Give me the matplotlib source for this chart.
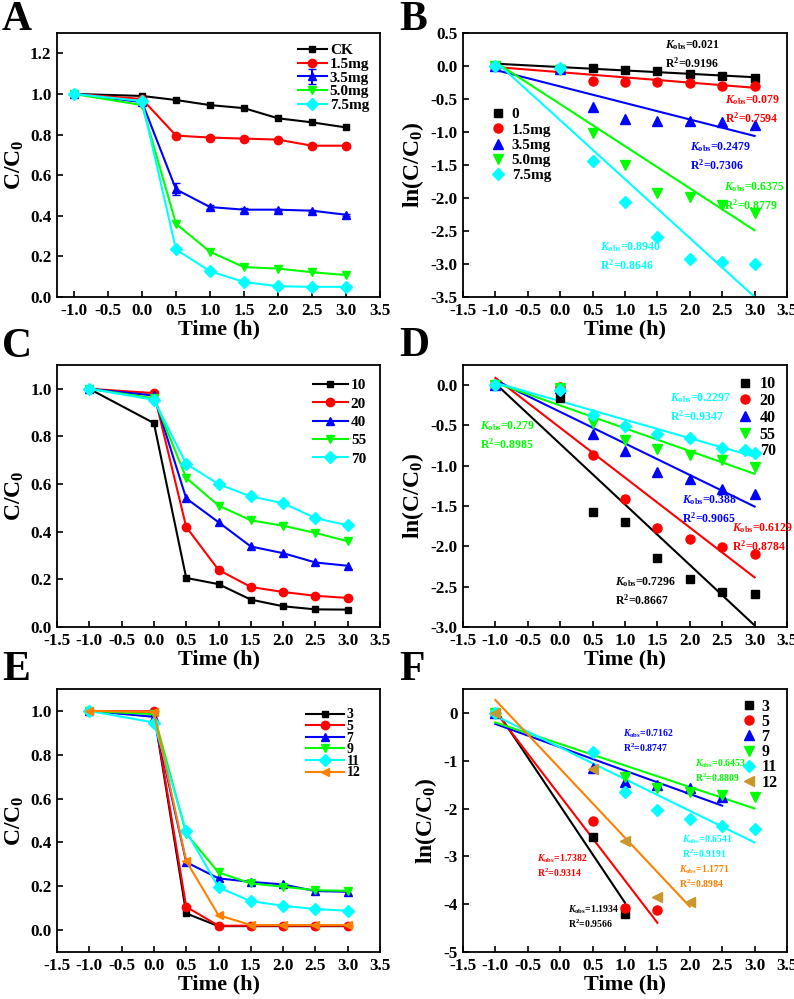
import matplotlib
matplotlib.use('Agg')
from matplotlib import pyplot as plt

plt.rcParams['font.family'] = 'Liberation Serif'
plt.rcParams['font.weight'] = 'bold'
plt.rcParams['axes.labelweight'] = 'bold'
plt.rcParams['mathtext.fontset'] = 'custom'
plt.rcParams['mathtext.rm'] = 'Liberation Serif:bold'
plt.rcParams['mathtext.it'] = 'Liberation Serif:italic:bold'
plt.rcParams['mathtext.bf'] = 'Liberation Serif:bold'
plt.rcParams['axes.unicode_minus'] = False
plt.rcParams['axes.linewidth'] = 1.3

time = [-1, 0, 0.5, 1, 1.5, 2, 2.5, 3]
colors = ['black', 'red', 'blue', '#00FF00', 'cyan', '#FF8000']
markers = ['s', 'o', '^', 'v', 'D', '<']

# panel A - dosage
a_labels = ['CK', '1.5mg', '3.5mg', '5.0mg', '7.5mg']
a_values = [
    [1.0, 0.99, 0.97, 0.945, 0.93, 0.88, 0.86, 0.835],
    [1.0, 0.975, 0.795, 0.785, 0.78, 0.775, 0.745, 0.745],
    [1.0, 0.96, 0.53, 0.443, 0.43, 0.43, 0.425, 0.405],
    [1.0, 0.945, 0.36, 0.223, 0.147, 0.14, 0.122, 0.108],
    [1.0, 0.965, 0.234, 0.127, 0.074, 0.053, 0.05, 0.05],
]
a_err = [0, 0.01, 0.03, 0.01, 0.01, 0.005, 0.005, 0.005]

# panel B - ln(C/C0) for dosage
b_labels = ['0', '1.5mg', '3.5mg', '5.0mg', '7.5mg']
b_values = [
    [0, -0.04, -0.035, -0.06, -0.075, -0.125, -0.15, -0.18],
    [0, -0.05, -0.23, -0.24, -0.245, -0.26, -0.3, -0.3],
    [0, -0.04, -0.62, -0.8, -0.84, -0.84, -0.85, -0.9],
    [0, -0.06, -1.02, -1.5, -1.92, -1.98, -2.1, -2.23],
    [0, -0.035, -1.44, -2.06, -2.59, -2.92, -2.97, -3.0],
]
b_fit_start = [0.035, -0.015, -0.06, 0.06, 0.07]
b_fit_end = [-0.17, -0.33, -1.06, -2.49, -3.5]
b_kobs = ['0.021', '0.079', '0.2479', '0.6375', '0.8940']
b_r2 = ['0.9196', '0.7594', '0.7306', '0.8779', '0.8646']
b_text_x = [1.62, 2.54, 2.0, 2.53, 0.61]
b_text_y = [0.32, -0.515, -1.23, -1.83, -2.74]

# panel C - concentration
c_labels = ['10', '20', '40', '55', '70']
c_values = [
    [1.0, 0.856, 0.206, 0.18, 0.115, 0.087, 0.074, 0.073],
    [1.0, 0.982, 0.42, 0.24, 0.168, 0.147, 0.131, 0.122],
    [1.0, 0.972, 0.54, 0.44, 0.338, 0.31, 0.271, 0.257],
    [1.0, 0.96, 0.626, 0.51, 0.448, 0.425, 0.395, 0.36],
    [1.0, 0.954, 0.685, 0.6, 0.548, 0.52, 0.457, 0.427],
]

# panel D - ln(C/C0) for concentration
d_labels = ['10', '20', '40', '55', '70']
d_values = [
    [0, -0.157, -1.57, -1.70, -2.15, -2.41, -2.57, -2.59],
    [0, -0.02, -0.867, -1.416, -1.77, -1.91, -2.01, -2.09],
    [0, -0.033, -0.607, -0.817, -1.08, -1.164, -1.29, -1.35],
    [0, -0.041, -0.475, -0.68, -0.797, -0.867, -0.93, -1.02],
    [0, -0.054, -0.376, -0.508, -0.6, -0.66, -0.784, -0.846],
]
d_fit_start = [0.02, 0.09, 0.06, 0.03, 0.03]
d_fit_end = [-2.98, -2.385, -1.506, -1.10, -0.887]
d_kobs = ['0.7296', '0.6129', '0.388', '0.279', '0.2297']
d_r2 = ['0.8667', '0.8784', '0.9065', '0.8985', '0.9347']
d_text_x = [0.845, 2.65, 1.88, -1.24, 1.69]
d_text_y = [-2.44, -1.77, -1.427, -0.51, -0.165]

# panel E - pH
e_labels = ['3', '5', '7', '9', '11', '12']
e_values = [
    [1.0, 0.992, 0.076, 0.018, 0.018, 0.018, 0.018, 0.018],
    [1.0, 0.998, 0.106, 0.02, 0.02, 0.02, 0.02, 0.02],
    [1.0, 0.973, 0.31, 0.236, 0.22, 0.208, 0.178, 0.175],
    [1.0, 0.985, 0.44, 0.263, 0.213, 0.198, 0.182, 0.179],
    [1.0, 0.947, 0.451, 0.195, 0.132, 0.111, 0.096, 0.088],
    [1.0, 0.995, 0.315, 0.068, 0.023, 0.023, 0.023, 0.023],
]

# panel F - ln(C/C0) for pH
f_labels = ['3', '5', '7', '9', '11', '12']
f_times = [
    [-1, 0.5, 1.0],
    [-1, 0.5, 1.0, 1.5],
    [-1, 0.5, 1.0, 1.5, 2.0, 2.5],
    [-1, 1.0, 1.5, 2.0, 2.5, 3.0],
    [-1, 0.5, 1.0, 1.5, 2.0, 2.5, 3.0],
    [-1, 0.5, 1.0, 1.5, 2.0],
]
f_values = [
    [0, -2.6, -4.21],
    [0, -2.27, -4.085, -4.13],
    [0, -1.16, -1.44, -1.5, -1.58, -1.75],
    [0, -1.35, -1.57, -1.66, -1.72, -1.75],
    [0, -0.81, -1.65, -2.03, -2.22, -2.37, -2.43],
    [0, -1.17, -2.67, -3.86, -3.95],
]
f_fit_start = [0.08, 0.03, -0.23, -0.2, -0.06, 0.27]
f_fit_end = [-3.97, -4.39, -1.94, -2.0, -2.71, -4.05]
f_fit_x_end = [1.0, 1.5, 2.5, 3.0, 3.0, 2.0]
f_kobs = ['1.1934', '1.7382', '0.7162', '0.6453', '0.6541', '1.1771']
f_r2 = ['0.9566', '0.9314', '0.8747', '0.8809', '0.9191', '0.8984']
f_text_x = [0.12, -0.36, 0.97, 2.08, 1.88, 1.83]
f_text_y = [-4.12, -3.05, -0.43, -1.06, -2.65, -3.28]
f_marker_colors = ['black', 'red', 'blue', '#00FF00', 'cyan', '#C8962D']

W, H = 794, 999


def box(l, t, r, b):
    return [l / W, 1 - b / H, (r - l) / W, (b - t) / H]


def style(ax, ylabel):
    ax.tick_params(direction='in', length=4, width=1.2, labelsize=12.3, pad=4)
    for lab in ax.get_xticklabels() + ax.get_yticklabels():
        lab.set_fontweight('bold')
    ax.set_xlabel('Time (h)', fontsize=16, fontweight='bold', labelpad=1)
    ax.set_ylabel(ylabel, fontsize=17, fontweight='bold', labelpad=3)


def kobs_text(ax, x, y, k, r2, color, size, gap):
    ax.text(x, y, r'$\mathit{K}_{\mathrm{obs}}$=' + k, color=color,
            fontsize=size, va='center')
    ax.annotate(r'R$^{\mathrm{2}}$=' + r2, (x, y), xytext=(0, -gap),
                textcoords='offset points', color=color, fontsize=size,
                va='center')


fig = plt.figure(figsize=(7.94, 9.99), dpi=100)

# A
ax = fig.add_axes(box(57, 33, 380, 297))
for i in range(5):
    err = a_err if i == 2 else None
    ax.errorbar(time, a_values[i], yerr=err, color=colors[i], marker=markers[i],
                ms=6 if i else 5, lw=1.5, capsize=3, label=a_labels[i])
ax.set_xlim(-1.25, 3.5)
ax.set_ylim(0, 1.3)
ax.set_xticks([-1, -0.5, 0, 0.5, 1, 1.5, 2, 2.5, 3, 3.5])
ax.set_yticks([0, 0.2, 0.4, 0.6, 0.8, 1.0, 1.2])
style(ax, 'C/C$_{\\mathrm{0}}$')
ax.legend(loc='upper right', frameon=False, fontsize=11, handlelength=1.9,
          handletextpad=0.2, labelspacing=0.0, borderaxespad=0.3)

# B
ax = fig.add_axes(box(463, 33, 787, 297))
for i in range(5):
    ax.plot([-1, 3], [b_fit_start[i], b_fit_end[i]], color=colors[i], lw=1.5)
for i in range(5):
    ax.plot(time, b_values[i], ls='none', color=colors[i], marker=markers[i],
            ms=6.5 if i else 5.5, label=b_labels[i])
    kobs_text(ax, b_text_x[i], b_text_y[i], b_kobs[i], b_r2[i], colors[i], 8.5, 13)
ax.set_xlim(-1.5, 3.5)
ax.set_ylim(-3.5, 0.5)
ax.set_xticks([-1.5, -1, -0.5, 0, 0.5, 1, 1.5, 2, 2.5, 3, 3.5])
ax.set_yticks([-3.5, -3.0, -2.5, -2.0, -1.5, -1.0, -0.5, 0.0, 0.5])
style(ax, 'ln(C/C$_{\\mathrm{0}}$)')
ax.legend(loc='upper left', bbox_to_anchor=(0.07, 0.74), frameon=False,
          fontsize=11, handlelength=0.8, handletextpad=0.5, labelspacing=0.1,
          borderaxespad=0)

# C
ax = fig.add_axes(box(57, 365, 380, 627))
for i in range(5):
    ax.plot(time, c_values[i], color=colors[i], marker=markers[i],
            ms=6 if i else 5, lw=1.5, label=c_labels[i])
ax.set_xlim(-1.5, 3.5)
ax.set_ylim(0, 1.1)
ax.set_xticks([-1.5, -1, -0.5, 0, 0.5, 1, 1.5, 2, 2.5, 3, 3.5])
ax.set_yticks([0, 0.2, 0.4, 0.6, 0.8, 1.0])
style(ax, 'C/C$_{\\mathrm{0}}$')
ax.legend(loc='upper right', frameon=False, fontsize=11, handlelength=2.3,
          handletextpad=0.2, labelspacing=0.3, borderaxespad=0.5)

# D
ax = fig.add_axes(box(463, 365, 787, 627))
for i in range(5):
    ax.plot([-1, 3], [d_fit_start[i], d_fit_end[i]], color=colors[i], lw=1.5)
for i in range(5):
    ax.plot(time, d_values[i], ls='none', color=colors[i], marker=markers[i],
            ms=6.5 if i else 5.5, label=d_labels[i])
    kobs_text(ax, d_text_x[i], d_text_y[i], d_kobs[i], d_r2[i], colors[i], 8.5, 13)
ax.set_xlim(-1.5, 3.5)
ax.set_ylim(-3.0, 0.25)
ax.set_xticks([-1.5, -1, -0.5, 0, 0.5, 1, 1.5, 2, 2.5, 3, 3.5])
ax.set_yticks([-3.0, -2.5, -2.0, -1.5, -1.0, -0.5, 0.0])
style(ax, 'ln(C/C$_{\\mathrm{0}}$)')
ax.legend(loc='upper right', frameon=False, fontsize=11.5, handlelength=0.8,
          handletextpad=0.5, labelspacing=0.05, borderaxespad=0.3)

# E
ax = fig.add_axes(box(57, 689, 380, 952))
for i in range(6):
    ax.plot(time, e_values[i], color=colors[i], marker=markers[i],
            ms=6 if i else 5, lw=1.5, label=e_labels[i])
ax.set_xlim(-1.5, 3.5)
ax.set_ylim(-0.1, 1.1)
ax.set_xticks([-1.5, -1, -0.5, 0, 0.5, 1, 1.5, 2, 2.5, 3, 3.5])
ax.set_yticks([0, 0.2, 0.4, 0.6, 0.8, 1.0])
style(ax, 'C/C$_{\\mathrm{0}}$')
ax.legend(loc='upper right', frameon=False, fontsize=10, handlelength=2.7,
          handletextpad=0.2, labelspacing=-0.1, borderaxespad=1.0)

# F
ax = fig.add_axes(box(463, 689, 787, 952))
for i in range(6):
    ax.plot([-1, f_fit_x_end[i]], [f_fit_start[i], f_fit_end[i]],
            color=colors[i], lw=1.5)
for i in range(6):
    ax.plot(f_times[i], f_values[i], ls='none', color=f_marker_colors[i],
            marker=markers[i], ms=6.5 if i else 5.5, label=f_labels[i])
    kobs_text(ax, f_text_x[i], f_text_y[i], f_kobs[i], f_r2[i], colors[i], 7, 10)
ax.set_xlim(-1.5, 3.5)
ax.set_ylim(-5, 0.5)
ax.set_xticks([-1.5, -1, -0.5, 0, 0.5, 1, 1.5, 2, 2.5, 3, 3.5])
ax.set_yticks([-5, -4, -3, -2, -1, 0])
style(ax, 'ln(C/C$_{\\mathrm{0}}$)')
ax.legend(loc='upper right', frameon=False, fontsize=11.5, handlelength=0.8,
          handletextpad=0.4, labelspacing=-0.05, borderaxespad=0.2)

# panel letters
for letter, x, y in [('A', 2, 30), ('B', 399, 30), ('C', 2, 357),
                     ('D', 399, 356), ('E', 2, 680), ('F', 399, 680)]:
    fig.text(x / W, 1 - y / H, letter, fontsize=30, fontweight='bold',
             va='baseline', ha='left')

plt.savefig('out.png', dpi=100)
